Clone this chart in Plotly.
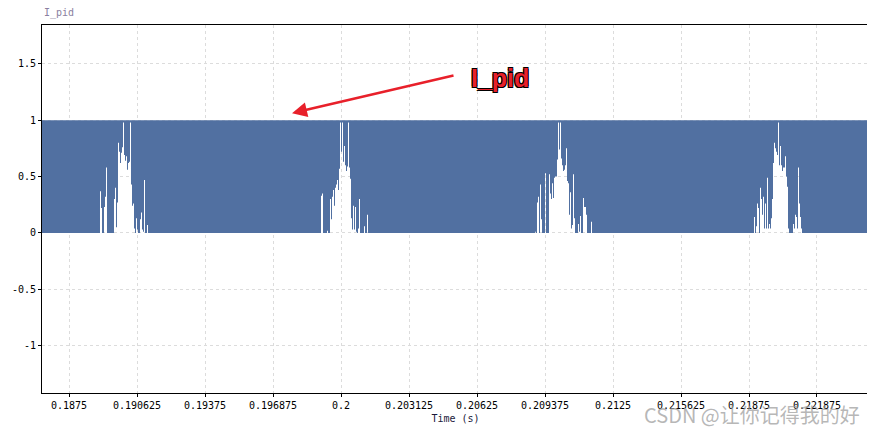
import plotly.graph_objects as go

# ---- data ----
signal_name = "I_pid"
sample_dt = 4.5956e-5          # sample interval (s)
x_range = [0.186259, 0.224265]
y_range = [-1.42, 1.844]

x_tick_vals = [0.1875, 0.190625, 0.19375, 0.196875, 0.2, 0.203125,
               0.20625, 0.209375, 0.2125, 0.215625, 0.21875, 0.221875]
x_tick_text = ["0.1875", "0.190625", "0.19375", "0.196875", "0.2", "0.203125",
               "0.20625", "0.209375", "0.2125", "0.215625", "0.21875", "0.221875"]
y_tick_vals = [-1, -0.5, 0, 0.5, 1, 1.5]
y_tick_text = ["-1", "-0.5", "0", "0.5", "1", "1.5"]

signal_high = 1.0
signal_low = 0.0

# start times of the bursts where the signal's minimum rises above 0
burst_starts = [0.188924, 0.199081, 0.208915, 0.218980]

# per-sample minimum of the PWM signal inside each burst
burst1 = [0.37, 0.22, 0, 0, 0.23, 0.32, 0.58, 0, 0, 0, 0, 0, 0, 0,
          0.30, 0.40, 0.05, 0.27, 0.80, 0.72, 0.62, 0.71, 0.76, 0.98, 0.69,
          0.64, 0.68, 0.56, 0.62, 0.63, 0.98, 0.43, 0.24, 0.26, 0.04, 0,
          0.13, 0.03, 0, 0, 0.12, 0.18, 0.03, 0.01, 0.47, 0, 0, 0.07]
burst2 = [0.33, 0.35, 0, 0, 0, 0, 0.02, 0, 0, 0.30, 0.12, 0.32, 0.38,
          0.24, 0.40, 0.43, 0.47, 0.38, 0.57, 0.98, 0.72, 0.98, 0.63, 0.77,
          0.60, 0.55, 0.59, 0.98, 0.58, 0.48, 0.13, 0.03, 0.24, 0.03, 0.23,
          0.01, 0, 0.04, 0.30, 0, 0, 0, 0, 0.06, 0, 0, 0.16]
burst3 = [0.01, 0, 0.27, 0.32, 0, 0.43, 0.12, 0, 0, 0, 0.53, 0, 0, 0,
          0.52, 0.35, 0.30, 0.44, 0.31, 0.49, 0.50, 0.50, 0.65, 0.98, 0.74,
          0.98, 0.66, 0.60, 0.55, 0.56, 0.60, 0.75, 0.46, 0.44, 0.16, 0.36,
          0.04, 0.07, 0.52, 0.13, 0, 0, 0, 0.08, 0.01, 0.15, 0, 0, 0.31,
          0.23, 0.23, 0.16, 0, 0, 0, 0, 0.10]
burst4 = [0.14, 0, 0.06, 0.26, 0.22, 0, 0.40, 0.30, 0.16, 0.32, 0.04,
          0.26, 0.04, 0.49, 0.04, 0.08, 0.04, 0.13, 0.30, 0.62, 0.80, 0.75,
          0.72, 0.69, 0.98, 0.60, 0.77, 0.60, 0.55, 0.58, 0.58, 0.68, 0.50,
          0.41, 0.04, 0, 0, 0, 0, 0.08, 0.04, 0.16, 0.14, 0.04, 0.58, 0.26,
          0.14, 0.04]
bursts = [burst1, burst2, burst3, burst4]

# ---- build the filled band (between the signal's min envelope and its max) ----
xs = [x_range[0]]
ys = [signal_low]
prev = signal_low
for t0, lows in zip(burst_starts, bursts):
    for i, v in enumerate(lows):
        t = t0 + i * sample_dt
        xs += [t, t, t + sample_dt]
        ys += [prev, v, v]
        prev = v
    t_end = t0 + len(lows) * sample_dt
    xs += [t_end]
    ys += [signal_low]
    prev = signal_low
xs += [x_range[1], x_range[1], x_range[0], x_range[0]]
ys += [signal_low, signal_high, signal_high, signal_low]

blue = "#5170a1"
fig = go.Figure()
fig.add_trace(go.Scatter(
    x=xs, y=ys, mode="lines", fill="toself", fillcolor=blue,
    line=dict(width=0, color=blue), hoverinfo="skip", showlegend=False,
))

mono = "DejaVu Sans Mono"
axis_common = dict(
    showline=True, linecolor="black", linewidth=1, mirror=True,
    showgrid=True, gridcolor="#dcdcdc", griddash="3px,3px", gridwidth=1,
    zeroline=False, ticks="outside", ticklen=3, tickcolor="black",
    tickfont=dict(family=mono, size=10, color="black"),
    automargin=False,
)
fig.update_xaxes(range=x_range, tickvals=x_tick_vals, ticktext=x_tick_text,
                 title=dict(text="Time (s)", font=dict(family=mono, size=10, color="#1a1a3a"),
                            standoff=4),
                 **axis_common)
fig.update_yaxes(range=y_range, tickvals=y_tick_vals, ticktext=y_tick_text, **axis_common)

# arrow + label annotation
fig.add_annotation(x=0.197748, y=1.062, ax=0.205239, ay=1.40, xref="x", yref="y",
                   axref="x", ayref="y", text="", showarrow=True,
                   arrowhead=2, arrowsize=1.2, arrowwidth=2.5, arrowcolor="#e8202a")
fig.add_annotation(x=0.207300, y=1.37, xref="x", yref="y", text="<b>I_pid</b>",
                   showarrow=False,
                   font=dict(family="Liberation Sans", size=25, color="#e8202a",
                             shadow="-1px -1px 0 #000, 1px -1px 0 #000, -1px 1px 0 #000, 1px 1px 0 #000"))

# small title at top left
fig.add_annotation(x=0, y=1, xref="paper", yref="paper", xanchor="left", yanchor="bottom",
                   yshift=4, text=signal_name, showarrow=False,
                   font=dict(family=mono, size=10, color="#8a7fa0"))

# watermark
fig.add_annotation(x=1, y=0, xref="paper", yref="paper", xanchor="right", yanchor="top",
                   xshift=-7, yshift=-5, text="CSDN @让你记得我的好", showarrow=False,
                   font=dict(family="Noto Sans CJK SC", size=20, color="rgba(160,160,160,0.75)"))

# the page places the figure 8px in from the top-left corner, so size it to fit
fig.update_layout(
    width=867, height=424,
    margin=dict(l=34, r=6, t=17, b=39),
    paper_bgcolor="white", plot_bgcolor="white",
    showlegend=False,
)
fig.write_html("out.html")
